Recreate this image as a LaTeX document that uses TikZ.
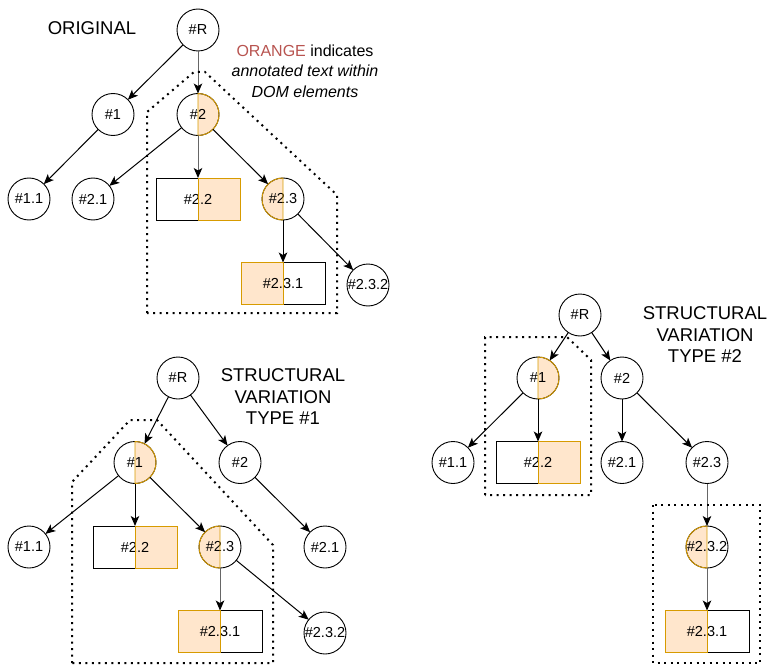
\documentclass[tikz,border=0pt]{standalone}
\usepackage{fontspec}
\setmainfont{Liberation Sans}
\usepackage{tikz}
\usetikzlibrary{arrows.meta, positioning}
\definecolor{hlfill}{HTML}{FFE6CC}
\definecolor{hlline}{HTML}{D79B00}
\definecolor{notered}{HTML}{B85450}
\definecolor{edgegray}{HTML}{666666}

% orange outline over one half of a highlighted node
\newcommand{\halfring}[2]{\draw[hlborder] (#1.north) arc[start angle=90, end angle=#2, radius=21pt] -- cycle;}
\newcommand{\halfbox}[2]{\draw[hlborder] (#1.north) -| (#1.south #2) -- (#1.south) -- cycle;}

\begin{document}
\begin{tikzpicture}[x=1pt, y=1pt, node distance=84.5pt,
    tnode/.style={circle, draw, minimum size=42pt, inner sep=0pt, outer sep=0pt, line width=0.9pt, font=\fontsize{14.5}{16}\selectfont},
    tbox/.style={rectangle, draw, minimum width=84pt, minimum height=42pt, inner sep=0pt, outer sep=0pt, line width=0.9pt, font=\fontsize{14.5}{16}\selectfont},
    hlleft/.style={path picture={\fill[hlfill] (path picture bounding box.south west) rectangle (path picture bounding box.north);}},
    hlright/.style={path picture={\fill[hlfill] (path picture bounding box.south) rectangle (path picture bounding box.north east);}},
    hlborder/.style={draw=hlline, line width=0.9pt},
    arrow/.style={-{Stealth[length=10pt, width=8.5pt, inset=2.5pt, color=black]}, line width=1pt},
    grayarrow/.style={arrow, draw=edgegray},
    region/.style={line width=2pt, dash pattern=on 2pt off 4.5pt},
    title/.style={align=center, font=\fontsize{18.5}{21.5}\selectfont}]
    \useasboundingbox (0,0) rectangle (771,-666);

    % original tree
    \node (oR) [tnode] at (198,-30) {\#R};
    \node (o1) [tnode, below of=oR, xshift=-85pt] {\#1};
    \node (o2) [tnode, hlright, below of=oR] {\#2};
    \node (o11) [tnode, below of=o1, xshift=-84pt] {\#1.1};
    \node (o21) [tnode, below of=o2, xshift=-105pt] {\#2.1};
    \node (o22) [tbox, hlright, below of=o2] {\#2.2};
    \node (o23) [tnode, hlleft, below of=o2, xshift=85pt] {\#2.3};
    \node (o231) [tbox, hlleft, below of=o23] {\#2.3.1};
    \node (o232) [tnode, below of=o23, xshift=85pt, yshift=-1.5pt] {\#2.3.2};
    \halfring{o2}{-90} \halfbox{o22}{east}
    \halfring{o23}{270} \halfbox{o231}{west}

    \draw [arrow] (oR) -- (o1);
    \draw [grayarrow] (oR) -- (o2);
    \draw [arrow] (o1) -- (o11);
    \draw [arrow] (o2) -- (o21);
    \draw [grayarrow] (o2) -- (o22);
    \draw [arrow] (o2) -- (o23);
    \draw [arrow] (o23) -- (o231);
    \draw [arrow] (o23) -- (o232);
    \draw [region] (147,-313) -- (147,-112) -- (194,-72) -- (205,-72) -- (337,-195) -- (337,-313) -- cycle;

    \node (orig) [title] at (92,-28) {ORIGINAL};
    \node (note) [align=center, font=\fontsize{16}{20.5}\selectfont] at (305,-71)
        {\textcolor{notered}{ORANGE} indicates\\ \textit{annotated text within}\\ \textit{DOM elements}};

    % variation type 1
    \node (aR) [tnode] at (178,-378) {\#R};
    \node (a1) [tnode, hlright, below of=aR, xshift=-43pt] {\#1};
    \node (a2) [tnode, below of=aR, xshift=62pt] {\#2};
    \node (a11) [tnode, below of=a1, xshift=-106pt] {\#1.1};
    \node (a22) [tbox, hlright, below of=a1] {\#2.2};
    \node (a23) [tnode, hlleft, below of=a1, xshift=85pt] {\#2.3};
    \node (a21) [tnode, below of=a2, xshift=85pt] {\#2.1};
    \node (a231) [tbox, hlleft, below of=a23] {\#2.3.1};
    \node (a232) [tnode, below of=a23, xshift=105pt, yshift=-1.5pt] {\#2.3.2};
    \halfring{a1}{-90} \halfbox{a22}{east}
    \halfring{a23}{270} \halfbox{a231}{west}

    \draw [arrow] (aR) -- (a1);
    \draw [arrow] (aR) -- (a2);
    \draw [arrow] (a1) -- (a11);
    \draw [arrow] (a1) -- (a22);
    \draw [arrow] (a1) -- (a23);
    \draw [arrow] (a2) -- (a21);
    \draw [grayarrow] (a23) -- (a231);
    \draw [arrow] (a23) -- (a232);
    \draw [region] (72,-663) -- (72,-482) -- (130,-420) -- (157,-420) -- (273,-545) -- (273,-663) -- cycle;

    \node (var1) [title] at (283,-397) {STRUCTURAL\\VARIATION\\TYPE \#1};

    % variation type 2
    \node (bR) [tnode] at (580,-315) {\#R};
    \node (b1) [tnode, hlright, below of=bR, xshift=-42pt, yshift=21.5pt] {\#1};
    \node (b2) [tnode, below of=bR, xshift=42pt, yshift=21.5pt] {\#2};
    \node (b11) [tnode, below of=b1, xshift=-85pt] {\#1.1};
    \node (b22) [tbox, hlright, below of=b1] {\#2.2};
    \node (b21) [tnode, below of=b2] {\#2.1};
    \node (b23) [tnode, below of=b2, xshift=85pt] {\#2.3};
    \node (b232) [tnode, hlleft, below of=b23] {\#2.3.2};
    \node (b231) [tbox, hlleft, below of=b232] {\#2.3.1};
    \halfring{b1}{-90} \halfbox{b22}{east}
    \halfring{b232}{270} \halfbox{b231}{west}

    \draw [arrow] (bR) -- (b1);
    \draw [arrow] (bR) -- (b2);
    \draw [arrow] (b1) -- (b11);
    \draw [arrow] (b1) -- (b22);
    \draw [arrow] (b2) -- (b21);
    \draw [arrow] (b2) -- (b23);
    \draw [grayarrow] (b23) -- (b232);
    \draw [grayarrow] (b232) -- (b231);
    \draw [region] (485,-495) -- (485,-337) -- (567,-337) -- (591,-360) -- (591,-495) -- cycle;
    \draw [region] (653,-505) rectangle (760,-663);

    \node (var2) [title] at (705,-335) {STRUCTURAL\\VARIATION\\TYPE \#2};
\end{tikzpicture}
\end{document}
